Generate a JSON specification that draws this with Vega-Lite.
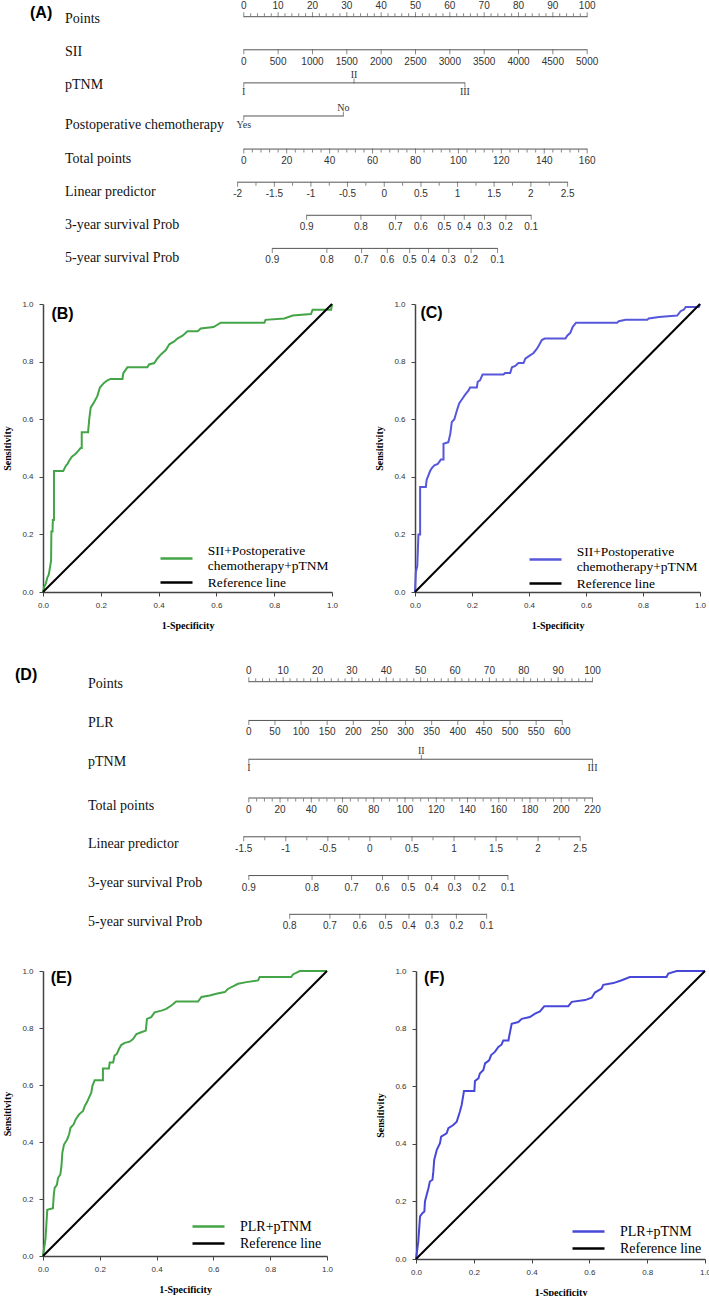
{
  "$schema": "https://vega.github.io/schema/vega-lite/v6.json",
  "autosize": {"type": "pad"},
  "padding": {"left": 2, "top": 0, "right": 0, "bottom": 0},
  "bounds": "flush",
  "spacing": 0,
  "config": {"view": {"stroke": null}, "font": "Liberation Sans"},
  "resolve": {"scale": {"x": "independent", "y": "independent", "color": "independent"}, "legend": {"color": "independent"}},
  "datasets": {
    "nomoA": [
      {"row":0,"pos":0,"label":"0"},{"row":0,"pos":2,"label":""},{"row":0,"pos":4,"label":""},{"row":0,"pos":6,"label":""},{"row":0,"pos":8,"label":""},
      {"row":0,"pos":10,"label":"10"},{"row":0,"pos":12,"label":""},{"row":0,"pos":14,"label":""},{"row":0,"pos":16,"label":""},{"row":0,"pos":18,"label":""},
      {"row":0,"pos":20,"label":"20"},{"row":0,"pos":22,"label":""},{"row":0,"pos":24,"label":""},{"row":0,"pos":26,"label":""},{"row":0,"pos":28,"label":""},
      {"row":0,"pos":30,"label":"30"},{"row":0,"pos":32,"label":""},{"row":0,"pos":34,"label":""},{"row":0,"pos":36,"label":""},{"row":0,"pos":38,"label":""},
      {"row":0,"pos":40,"label":"40"},{"row":0,"pos":42,"label":""},{"row":0,"pos":44,"label":""},{"row":0,"pos":46,"label":""},{"row":0,"pos":48,"label":""},
      {"row":0,"pos":50,"label":"50"},{"row":0,"pos":52,"label":""},{"row":0,"pos":54,"label":""},{"row":0,"pos":56,"label":""},{"row":0,"pos":58,"label":""},
      {"row":0,"pos":60,"label":"60"},{"row":0,"pos":62,"label":""},{"row":0,"pos":64,"label":""},{"row":0,"pos":66,"label":""},{"row":0,"pos":68,"label":""},
      {"row":0,"pos":70,"label":"70"},{"row":0,"pos":72,"label":""},{"row":0,"pos":74,"label":""},{"row":0,"pos":76,"label":""},{"row":0,"pos":78,"label":""},
      {"row":0,"pos":80,"label":"80"},{"row":0,"pos":82,"label":""},{"row":0,"pos":84,"label":""},{"row":0,"pos":86,"label":""},{"row":0,"pos":88,"label":""},
      {"row":0,"pos":90,"label":"90"},{"row":0,"pos":92,"label":""},{"row":0,"pos":94,"label":""},{"row":0,"pos":96,"label":""},{"row":0,"pos":98,"label":""},
      {"row":0,"pos":100,"label":"100"},
      {"row":1,"pos":0,"label":"0"},{"row":1,"pos":10,"label":"500"},{"row":1,"pos":20,"label":"1000"},{"row":1,"pos":30,"label":"1500"},{"row":1,"pos":40,"label":"2000"},
      {"row":1,"pos":50,"label":"2500"},{"row":1,"pos":60,"label":"3000"},{"row":1,"pos":70,"label":"3500"},{"row":1,"pos":80,"label":"4000"},{"row":1,"pos":90,"label":"4500"},{"row":1,"pos":100,"label":"5000"},
      {"row":2,"pos":0,"label":"I"},{"row":2,"pos":32.1,"label":"II"},{"row":2,"pos":64.4,"label":"III"},
      {"row":3,"pos":0,"label":"Yes"},{"row":3,"pos":29.0,"label":"No"},
      {"row":4,"pos":0,"label":"0"},{"row":4,"pos":2.5,"label":""},{"row":4,"pos":5,"label":""},{"row":4,"pos":7.5,"label":""},{"row":4,"pos":10,"label":""},
      {"row":4,"pos":12.5,"label":"20"},{"row":4,"pos":15,"label":""},{"row":4,"pos":17.5,"label":""},{"row":4,"pos":20,"label":""},{"row":4,"pos":22.5,"label":""},
      {"row":4,"pos":25,"label":"40"},{"row":4,"pos":27.5,"label":""},{"row":4,"pos":30,"label":""},{"row":4,"pos":32.5,"label":""},{"row":4,"pos":35,"label":""},
      {"row":4,"pos":37.5,"label":"60"},{"row":4,"pos":40,"label":""},{"row":4,"pos":42.5,"label":""},{"row":4,"pos":45,"label":""},{"row":4,"pos":47.5,"label":""},
      {"row":4,"pos":50,"label":"80"},{"row":4,"pos":52.5,"label":""},{"row":4,"pos":55,"label":""},{"row":4,"pos":57.5,"label":""},{"row":4,"pos":60,"label":""},
      {"row":4,"pos":62.5,"label":"100"},{"row":4,"pos":65,"label":""},{"row":4,"pos":67.5,"label":""},{"row":4,"pos":70,"label":""},{"row":4,"pos":72.5,"label":""},
      {"row":4,"pos":75,"label":"120"},{"row":4,"pos":77.5,"label":""},{"row":4,"pos":80,"label":""},{"row":4,"pos":82.5,"label":""},{"row":4,"pos":85,"label":""},
      {"row":4,"pos":87.5,"label":"140"},{"row":4,"pos":90,"label":""},{"row":4,"pos":92.5,"label":""},{"row":4,"pos":95,"label":""},{"row":4,"pos":97.5,"label":""},
      {"row":4,"pos":100,"label":"160"},
      {"row":5,"pos":-1.8,"label":"-2"},{"row":5,"pos":3.55,"label":""},{"row":5,"pos":8.9,"label":"-1.5"},{"row":5,"pos":14.2,"label":""},
      {"row":5,"pos":19.55,"label":"-1"},{"row":5,"pos":24.9,"label":""},{"row":5,"pos":30.2,"label":"-0.5"},{"row":5,"pos":35.55,"label":""},
      {"row":5,"pos":40.9,"label":"0"},{"row":5,"pos":46.25,"label":""},{"row":5,"pos":51.6,"label":"0.5"},{"row":5,"pos":56.9,"label":""},
      {"row":5,"pos":62.25,"label":"1"},{"row":5,"pos":67.6,"label":""},{"row":5,"pos":72.9,"label":"1.5"},{"row":5,"pos":78.25,"label":""},
      {"row":5,"pos":83.6,"label":"2"},{"row":5,"pos":88.95,"label":""},{"row":5,"pos":94.3,"label":"2.5"},
      {"row":6,"pos":18.3,"label":"0.9"},{"row":6,"pos":34.1,"label":"0.8"},{"row":6,"pos":44.2,"label":"0.7"},{"row":6,"pos":51.6,"label":"0.6"},{"row":6,"pos":58.4,"label":"0.5"},
      {"row":6,"pos":64.2,"label":"0.4"},{"row":6,"pos":70.1,"label":"0.3"},{"row":6,"pos":76.3,"label":"0.2"},{"row":6,"pos":83.7,"label":"0.1"},
      {"row":7,"pos":8.3,"label":"0.9"},{"row":7,"pos":24.2,"label":"0.8"},{"row":7,"pos":34.3,"label":"0.7"},{"row":7,"pos":41.8,"label":"0.6"},{"row":7,"pos":48.3,"label":"0.5"},
      {"row":7,"pos":53.8,"label":"0.4"},{"row":7,"pos":59.7,"label":"0.3"},{"row":7,"pos":66.2,"label":"0.2"},{"row":7,"pos":73.9,"label":"0.1"}
    ],
    "nomoD": [
      {"row":0,"pos":0,"label":"0"},{"row":0,"pos":2,"label":""},{"row":0,"pos":4,"label":""},{"row":0,"pos":6,"label":""},{"row":0,"pos":8,"label":""},
      {"row":0,"pos":10,"label":"10"},{"row":0,"pos":12,"label":""},{"row":0,"pos":14,"label":""},{"row":0,"pos":16,"label":""},{"row":0,"pos":18,"label":""},
      {"row":0,"pos":20,"label":"20"},{"row":0,"pos":22,"label":""},{"row":0,"pos":24,"label":""},{"row":0,"pos":26,"label":""},{"row":0,"pos":28,"label":""},
      {"row":0,"pos":30,"label":"30"},{"row":0,"pos":32,"label":""},{"row":0,"pos":34,"label":""},{"row":0,"pos":36,"label":""},{"row":0,"pos":38,"label":""},
      {"row":0,"pos":40,"label":"40"},{"row":0,"pos":42,"label":""},{"row":0,"pos":44,"label":""},{"row":0,"pos":46,"label":""},{"row":0,"pos":48,"label":""},
      {"row":0,"pos":50,"label":"50"},{"row":0,"pos":52,"label":""},{"row":0,"pos":54,"label":""},{"row":0,"pos":56,"label":""},{"row":0,"pos":58,"label":""},
      {"row":0,"pos":60,"label":"60"},{"row":0,"pos":62,"label":""},{"row":0,"pos":64,"label":""},{"row":0,"pos":66,"label":""},{"row":0,"pos":68,"label":""},
      {"row":0,"pos":70,"label":"70"},{"row":0,"pos":72,"label":""},{"row":0,"pos":74,"label":""},{"row":0,"pos":76,"label":""},{"row":0,"pos":78,"label":""},
      {"row":0,"pos":80,"label":"80"},{"row":0,"pos":82,"label":""},{"row":0,"pos":84,"label":""},{"row":0,"pos":86,"label":""},{"row":0,"pos":88,"label":""},
      {"row":0,"pos":90,"label":"90"},{"row":0,"pos":92,"label":""},{"row":0,"pos":94,"label":""},{"row":0,"pos":96,"label":""},{"row":0,"pos":98,"label":""},
      {"row":0,"pos":100,"label":"100"},
      {"row":1,"pos":0,"label":"0"},{"row":1,"pos":7.6,"label":"50"},{"row":1,"pos":15.2,"label":"100"},{"row":1,"pos":22.8,"label":"150"},{"row":1,"pos":30.4,"label":"200"},
      {"row":1,"pos":38.0,"label":"250"},{"row":1,"pos":45.6,"label":"300"},{"row":1,"pos":53.2,"label":"350"},{"row":1,"pos":60.8,"label":"400"},{"row":1,"pos":68.4,"label":"450"},
      {"row":1,"pos":76.0,"label":"500"},{"row":1,"pos":83.6,"label":"550"},{"row":1,"pos":91.2,"label":"600"},
      {"row":2,"pos":0,"label":"I"},{"row":2,"pos":50.2,"label":"II"},{"row":2,"pos":100,"label":"III"},
      {"row":3,"pos":0,"label":"0"},{"row":3,"pos":2.27,"label":""},{"row":3,"pos":4.55,"label":""},{"row":3,"pos":6.82,"label":""},
      {"row":3,"pos":9.09,"label":"20"},{"row":3,"pos":11.36,"label":""},{"row":3,"pos":13.64,"label":""},{"row":3,"pos":15.91,"label":""},
      {"row":3,"pos":18.18,"label":"40"},{"row":3,"pos":20.45,"label":""},{"row":3,"pos":22.73,"label":""},{"row":3,"pos":25.0,"label":""},
      {"row":3,"pos":27.27,"label":"60"},{"row":3,"pos":29.55,"label":""},{"row":3,"pos":31.82,"label":""},{"row":3,"pos":34.09,"label":""},
      {"row":3,"pos":36.36,"label":"80"},{"row":3,"pos":38.64,"label":""},{"row":3,"pos":40.91,"label":""},{"row":3,"pos":43.18,"label":""},
      {"row":3,"pos":45.45,"label":"100"},{"row":3,"pos":47.73,"label":""},{"row":3,"pos":50.0,"label":""},{"row":3,"pos":52.27,"label":""},
      {"row":3,"pos":54.55,"label":"120"},{"row":3,"pos":56.82,"label":""},{"row":3,"pos":59.09,"label":""},{"row":3,"pos":61.36,"label":""},
      {"row":3,"pos":63.64,"label":"140"},{"row":3,"pos":65.91,"label":""},{"row":3,"pos":68.18,"label":""},{"row":3,"pos":70.45,"label":""},
      {"row":3,"pos":72.73,"label":"160"},{"row":3,"pos":75.0,"label":""},{"row":3,"pos":77.27,"label":""},{"row":3,"pos":79.55,"label":""},
      {"row":3,"pos":81.82,"label":"180"},{"row":3,"pos":84.09,"label":""},{"row":3,"pos":86.36,"label":""},{"row":3,"pos":88.64,"label":""},
      {"row":3,"pos":90.91,"label":"200"},{"row":3,"pos":93.18,"label":""},{"row":3,"pos":95.45,"label":""},{"row":3,"pos":97.73,"label":""},
      {"row":3,"pos":100,"label":"220"},
      {"row":4,"pos":-1.48,"label":"-1.5"},{"row":4,"pos":4.64,"label":""},{"row":4,"pos":10.76,"label":"-1"},{"row":4,"pos":16.88,"label":""},
      {"row":4,"pos":23.0,"label":"-0.5"},{"row":4,"pos":29.12,"label":""},{"row":4,"pos":35.23,"label":"0"},{"row":4,"pos":41.35,"label":""},
      {"row":4,"pos":47.47,"label":"0.5"},{"row":4,"pos":53.59,"label":""},{"row":4,"pos":59.7,"label":"1"},{"row":4,"pos":65.82,"label":""},
      {"row":4,"pos":71.94,"label":"1.5"},{"row":4,"pos":78.06,"label":""},{"row":4,"pos":84.17,"label":"2"},{"row":4,"pos":90.29,"label":""},
      {"row":4,"pos":96.41,"label":"2.5"},
      {"row":5,"pos":0.0,"label":"0.9"},{"row":5,"pos":18.4,"label":"0.8"},{"row":5,"pos":29.9,"label":"0.7"},{"row":5,"pos":38.9,"label":"0.6"},{"row":5,"pos":46.4,"label":"0.5"},
      {"row":5,"pos":53.2,"label":"0.4"},{"row":5,"pos":59.9,"label":"0.3"},{"row":5,"pos":67.0,"label":"0.2"},{"row":5,"pos":75.4,"label":"0.1"},
      {"row":6,"pos":11.9,"label":"0.8"},{"row":6,"pos":23.6,"label":"0.7"},{"row":6,"pos":32.3,"label":"0.6"},{"row":6,"pos":39.8,"label":"0.5"},
      {"row":6,"pos":46.6,"label":"0.4"},{"row":6,"pos":53.3,"label":"0.3"},{"row":6,"pos":60.4,"label":"0.2"},{"row":6,"pos":69.2,"label":"0.1"}
    ],
    "ref": [{"fpr":0,"tpr":0},{"fpr":1,"tpr":1}],
    "rocB": [
      {"fpr":0,"tpr":0},{"fpr":0.005,"tpr":0.02},{"fpr":0.01,"tpr":0.03},{"fpr":0.015,"tpr":0.05},{"fpr":0.02,"tpr":0.06},{"fpr":0.025,"tpr":0.09},
      {"fpr":0.028,"tpr":0.11},{"fpr":0.029,"tpr":0.21},{"fpr":0.033,"tpr":0.21},{"fpr":0.034,"tpr":0.25},{"fpr":0.038,"tpr":0.25},{"fpr":0.038,"tpr":0.42},
      {"fpr":0.07,"tpr":0.42},{"fpr":0.075,"tpr":0.43},{"fpr":0.08,"tpr":0.44},{"fpr":0.085,"tpr":0.445},{"fpr":0.09,"tpr":0.455},{"fpr":0.1,"tpr":0.47},
      {"fpr":0.113,"tpr":0.48},{"fpr":0.122,"tpr":0.49},{"fpr":0.13,"tpr":0.5},{"fpr":0.134,"tpr":0.5},{"fpr":0.134,"tpr":0.555},{"fpr":0.156,"tpr":0.555},
      {"fpr":0.16,"tpr":0.6},{"fpr":0.165,"tpr":0.64},{"fpr":0.177,"tpr":0.66},{"fpr":0.188,"tpr":0.68},{"fpr":0.197,"tpr":0.71},{"fpr":0.21,"tpr":0.725},
      {"fpr":0.223,"tpr":0.735},{"fpr":0.234,"tpr":0.74},{"fpr":0.275,"tpr":0.74},{"fpr":0.278,"tpr":0.76},{"fpr":0.292,"tpr":0.78},{"fpr":0.361,"tpr":0.78},
      {"fpr":0.367,"tpr":0.79},{"fpr":0.385,"tpr":0.795},{"fpr":0.395,"tpr":0.81},{"fpr":0.408,"tpr":0.825},{"fpr":0.425,"tpr":0.84},{"fpr":0.437,"tpr":0.86},
      {"fpr":0.454,"tpr":0.87},{"fpr":0.465,"tpr":0.88},{"fpr":0.483,"tpr":0.89},{"fpr":0.5,"tpr":0.905},{"fpr":0.535,"tpr":0.905},{"fpr":0.546,"tpr":0.915},
      {"fpr":0.59,"tpr":0.92},{"fpr":0.615,"tpr":0.935},{"fpr":0.766,"tpr":0.935},{"fpr":0.77,"tpr":0.945},{"fpr":0.835,"tpr":0.95},{"fpr":0.864,"tpr":0.96},
      {"fpr":0.927,"tpr":0.965},{"fpr":0.933,"tpr":0.98},{"fpr":0.997,"tpr":0.98},{"fpr":1,"tpr":1}
    ],
    "rocC": [
      {"fpr":0,"tpr":0},{"fpr":0.003,"tpr":0.07},{"fpr":0.008,"tpr":0.09},{"fpr":0.012,"tpr":0.2},{"fpr":0.018,"tpr":0.2},{"fpr":0.018,"tpr":0.365},
      {"fpr":0.038,"tpr":0.365},{"fpr":0.041,"tpr":0.39},{"fpr":0.045,"tpr":0.4},{"fpr":0.053,"tpr":0.42},{"fpr":0.059,"tpr":0.43},{"fpr":0.068,"tpr":0.44},
      {"fpr":0.08,"tpr":0.445},{"fpr":0.091,"tpr":0.46},{"fpr":0.1,"tpr":0.46},{"fpr":0.1,"tpr":0.515},{"fpr":0.117,"tpr":0.52},{"fpr":0.124,"tpr":0.55},
      {"fpr":0.129,"tpr":0.59},{"fpr":0.138,"tpr":0.6},{"fpr":0.147,"tpr":0.63},{"fpr":0.155,"tpr":0.655},{"fpr":0.162,"tpr":0.665},{"fpr":0.176,"tpr":0.685},
      {"fpr":0.188,"tpr":0.7},{"fpr":0.193,"tpr":0.71},{"fpr":0.217,"tpr":0.71},{"fpr":0.22,"tpr":0.73},{"fpr":0.228,"tpr":0.735},{"fpr":0.237,"tpr":0.755},
      {"fpr":0.31,"tpr":0.755},{"fpr":0.316,"tpr":0.76},{"fpr":0.334,"tpr":0.76},{"fpr":0.34,"tpr":0.78},{"fpr":0.352,"tpr":0.785},{"fpr":0.363,"tpr":0.795},
      {"fpr":0.381,"tpr":0.795},{"fpr":0.387,"tpr":0.81},{"fpr":0.401,"tpr":0.82},{"fpr":0.416,"tpr":0.83},{"fpr":0.428,"tpr":0.845},{"fpr":0.437,"tpr":0.86},
      {"fpr":0.445,"tpr":0.875},{"fpr":0.455,"tpr":0.88},{"fpr":0.528,"tpr":0.88},{"fpr":0.534,"tpr":0.89},{"fpr":0.545,"tpr":0.9},{"fpr":0.553,"tpr":0.92},
      {"fpr":0.565,"tpr":0.935},{"fpr":0.709,"tpr":0.935},{"fpr":0.715,"tpr":0.94},{"fpr":0.739,"tpr":0.945},{"fpr":0.815,"tpr":0.945},{"fpr":0.82,"tpr":0.95},
      {"fpr":0.856,"tpr":0.955},{"fpr":0.92,"tpr":0.96},{"fpr":0.932,"tpr":0.975},{"fpr":0.943,"tpr":0.98},{"fpr":0.95,"tpr":0.99},{"fpr":0.996,"tpr":0.99},
      {"fpr":1,"tpr":1}
    ],
    "rocE": [
      {"fpr":0,"tpr":0},{"fpr":0.009,"tpr":0.062},{"fpr":0.015,"tpr":0.162},{"fpr":0.035,"tpr":0.168},{"fpr":0.038,"tpr":0.215},{"fpr":0.041,"tpr":0.239},
      {"fpr":0.049,"tpr":0.25},{"fpr":0.053,"tpr":0.274},{"fpr":0.061,"tpr":0.286},{"fpr":0.065,"tpr":0.315},{"fpr":0.068,"tpr":0.362},{"fpr":0.074,"tpr":0.391},
      {"fpr":0.085,"tpr":0.409},{"fpr":0.092,"tpr":0.427},{"fpr":0.097,"tpr":0.45},{"fpr":0.108,"tpr":0.462},{"fpr":0.115,"tpr":0.479},{"fpr":0.127,"tpr":0.497},
      {"fpr":0.141,"tpr":0.509},{"fpr":0.147,"tpr":0.526},{"fpr":0.155,"tpr":0.54},{"fpr":0.162,"tpr":0.556},{"fpr":0.17,"tpr":0.573},{"fpr":0.174,"tpr":0.597},
      {"fpr":0.182,"tpr":0.617},{"fpr":0.211,"tpr":0.617},{"fpr":0.211,"tpr":0.658},{"fpr":0.232,"tpr":0.658},{"fpr":0.235,"tpr":0.679},{"fpr":0.247,"tpr":0.679},
      {"fpr":0.252,"tpr":0.703},{"fpr":0.26,"tpr":0.709},{"fpr":0.268,"tpr":0.727},{"fpr":0.276,"tpr":0.741},{"fpr":0.288,"tpr":0.748},{"fpr":0.305,"tpr":0.752},
      {"fpr":0.317,"tpr":0.761},{"fpr":0.329,"tpr":0.779},{"fpr":0.346,"tpr":0.785},{"fpr":0.362,"tpr":0.791},{"fpr":0.366,"tpr":0.832},{"fpr":0.381,"tpr":0.838},
      {"fpr":0.393,"tpr":0.855},{"fpr":0.417,"tpr":0.861},{"fpr":0.434,"tpr":0.867},{"fpr":0.452,"tpr":0.879},{"fpr":0.469,"tpr":0.893},{"fpr":0.546,"tpr":0.893},
      {"fpr":0.558,"tpr":0.909},{"fpr":0.587,"tpr":0.914},{"fpr":0.61,"tpr":0.92},{"fpr":0.64,"tpr":0.926},{"fpr":0.651,"tpr":0.937},{"fpr":0.669,"tpr":0.946},
      {"fpr":0.687,"tpr":0.955},{"fpr":0.716,"tpr":0.961},{"fpr":0.757,"tpr":0.967},{"fpr":0.763,"tpr":0.979},{"fpr":0.874,"tpr":0.979},{"fpr":0.88,"tpr":0.988},
      {"fpr":0.904,"tpr":1.0},{"fpr":1,"tpr":1}
    ],
    "rocF": [
      {"fpr":0,"tpr":0},{"fpr":0.008,"tpr":0.061},{"fpr":0.014,"tpr":0.148},{"fpr":0.022,"tpr":0.159},{"fpr":0.029,"tpr":0.165},{"fpr":0.031,"tpr":0.2},
      {"fpr":0.037,"tpr":0.223},{"fpr":0.043,"tpr":0.246},{"fpr":0.048,"tpr":0.269},{"fpr":0.057,"tpr":0.275},{"fpr":0.06,"tpr":0.304},{"fpr":0.063,"tpr":0.344},
      {"fpr":0.072,"tpr":0.379},{"fpr":0.083,"tpr":0.402},{"fpr":0.087,"tpr":0.425},{"fpr":0.106,"tpr":0.436},{"fpr":0.112,"tpr":0.454},{"fpr":0.129,"tpr":0.465},
      {"fpr":0.141,"tpr":0.477},{"fpr":0.152,"tpr":0.512},{"fpr":0.158,"tpr":0.535},{"fpr":0.166,"tpr":0.583},{"fpr":0.202,"tpr":0.583},{"fpr":0.204,"tpr":0.618},
      {"fpr":0.216,"tpr":0.627},{"fpr":0.221,"tpr":0.644},{"fpr":0.233,"tpr":0.656},{"fpr":0.239,"tpr":0.679},{"fpr":0.253,"tpr":0.69},{"fpr":0.26,"tpr":0.708},
      {"fpr":0.273,"tpr":0.719},{"fpr":0.285,"tpr":0.736},{"fpr":0.296,"tpr":0.744},{"fpr":0.302,"tpr":0.759},{"fpr":0.32,"tpr":0.759},{"fpr":0.322,"tpr":0.771},
      {"fpr":0.331,"tpr":0.817},{"fpr":0.354,"tpr":0.823},{"fpr":0.366,"tpr":0.834},{"fpr":0.394,"tpr":0.84},{"fpr":0.412,"tpr":0.852},{"fpr":0.429,"tpr":0.86},
      {"fpr":0.444,"tpr":0.878},{"fpr":0.527,"tpr":0.878},{"fpr":0.539,"tpr":0.893},{"fpr":0.585,"tpr":0.899},{"fpr":0.608,"tpr":0.907},{"fpr":0.619,"tpr":0.925},
      {"fpr":0.642,"tpr":0.939},{"fpr":0.648,"tpr":0.952},{"fpr":0.683,"tpr":0.958},{"fpr":0.712,"tpr":0.968},{"fpr":0.74,"tpr":0.979},{"fpr":0.867,"tpr":0.979},
      {"fpr":0.873,"tpr":0.991},{"fpr":0.902,"tpr":1.0},{"fpr":1,"tpr":1}
    ]
  },
  "vconcat": [
    {
      "width": 667.5,
      "height": 303,
      "title": {"text": "(A)", "orient": "top", "anchor": "start", "frame": "group", "offset": -28.7, "dx": -13, "baseline": "middle", "font": "Liberation Sans", "fontSize": 16, "fontWeight": "bold", "color": "#000"},
      "data": {"name": "nomoA"},
      "encoding": {
        "x": {"field": "pos", "type": "quantitative", "scale": {"domain": [-58.47, 135.91], "nice": false, "zero": false}, "axis": null},
        "y": {"field": "row", "type": "quantitative", "scale": {"domain": [-0.474, 8.68], "nice": false, "zero": false, "reverse": true},
          "axis": {"values": [0,1,2,3,4,5,6,7], "labelExpr": "['Points','SII','pTNM','Postoperative chemotherapy','Total points','Linear predictor','3-year survival Prob','5-year survival Prob'][datum.value]",
            "title": null, "domain": false, "ticks": false, "grid": false, "labelAlign": "left", "labelBaseline": "middle", "labelPadding": -21.5,
            "labelFont": "Liberation Serif", "labelFontSize": 14, "labelColor": "#111", "labelLimit": 0, "labelFlush": false, "labelOverlap": false,
            "labelOffset": {"condition": {"test": "datum.value < 2.5", "value": 2}, "value": 9}}}
      },
      "layer": [
        {"mark": {"type": "rule", "color": "#555", "strokeWidth": 1}, "encoding": {"x": {"aggregate": "min", "field": "pos", "type": "quantitative"}, "x2": {"aggregate": "max", "field": "pos"}}},
        {"transform": [{"filter": "datum.row == 0 || datum.label == 'II' || datum.label == 'No'"}], "mark": {"type": "tick", "orient": "vertical", "color": "#555", "thickness": 1, "yOffset": -2}, "encoding": {"size": {"condition": {"test": "datum.label != ''", "value": 5}, "value": 3}}},
        {"transform": [{"filter": "!(datum.row == 0 || datum.label == 'II' || datum.label == 'No')"}], "mark": {"type": "tick", "orient": "vertical", "color": "#555", "thickness": 1, "yOffset": 2}, "encoding": {"size": {"condition": {"test": "datum.label != ''", "value": 5}, "value": 3}}},
        {"transform": [{"filter": "datum.row == 0 && datum.label != ''"}], "mark": {"type": "text", "dy": -11, "fontSize": 10, "color": "#333", "font": "Liberation Sans"}, "encoding": {"text": {"field": "label"}}},
        {"transform": [{"filter": "datum.row > 0 && datum.label != '' && indexof(['I','II','III','Yes','No'], datum.label) < 0"}], "mark": {"type": "text", "dy": 12, "fontSize": 10, "color": "#333", "font": "Liberation Sans"}, "encoding": {"text": {"field": "label"}}},
        {"transform": [{"filter": "datum.label == 'II' || datum.label == 'No'"}], "mark": {"type": "text", "dy": -8, "fontSize": 10, "color": "#333", "font": "Liberation Serif"}, "encoding": {"text": {"field": "label"}}},
        {"transform": [{"filter": "datum.label == 'I' || datum.label == 'III' || datum.label == 'Yes'"}], "mark": {"type": "text", "dy": 9, "fontSize": 10, "color": "#333", "font": "Liberation Serif"}, "encoding": {"text": {"field": "label"}}}
      ]
    },
    {
      "hconcat": [
        {
          "width": 289, "height": 288,
          "layer": [
            {"data": {"name": "rocB"}, "mark": {"type": "line", "strokeWidth": 2},
              "encoding": {
                "x": {"field": "fpr", "type": "quantitative", "scale": {"domain": [0, 1], "nice": false}, "axis": {"title": "1-Specificity", "values": [0,0.2,0.4,0.6,0.8,1], "format": ".1f", "grid": false, "tickSize": 4, "labelFont": "Liberation Sans", "labelFontSize": 8, "labelColor": "#333", "domainColor": "#444", "domainWidth": 1.5, "tickColor": "#444", "titleFont": "Liberation Serif", "titleFontWeight": "bold", "titleFontSize": 10, "titleColor": "#000", "titlePadding": 11, "labelPadding": 5, "labelFlush": false}},
                "y": {"field": "tpr", "type": "quantitative", "scale": {"domain": [0, 1], "nice": false}, "axis": {"title": "Sensitivity", "values": [0,0.2,0.4,0.6,0.8,1], "format": ".1f", "grid": false, "tickSize": 4, "labelFont": "Liberation Sans", "labelFontSize": 8, "labelColor": "#333", "domainColor": "#444", "domainWidth": 1.5, "tickColor": "#444", "titleFont": "Liberation Serif", "titleFontWeight": "bold", "titleFontSize": 10, "titleColor": "#000", "titlePadding": 9, "labelPadding": 6, "labelFlush": false}},
                "color": {"datum": "SII+Postoperative chemotherapy+pTNM", "type": "nominal", "scale": {"domain": ["SII+Postoperative chemotherapy+pTNM", "Reference line"], "range": ["#43a547", "#000000"]},
                  "legend": {"title": null, "orient": "bottom-right", "offset": 3, "padding": 0, "symbolType": "M-2,0H2", "symbolSize": 256, "symbolStrokeWidth": 2.5, "labelFont": "Liberation Serif", "labelFontSize": 13.5, "labelColor": "#000", "labelLimit": 0, "labelOffset": 21.7, "rowPadding": 0,
                    "labelExpr": "datum.label == 'Reference line' ? datum.label : ['SII+Postoperative', 'chemotherapy+pTNM']",
                    "encode": {"symbols": {"update": {"shape": {"signal": "datum.value == 'Reference line' ? 'M-2,0H2' : 'M-2,1H2'"}}}}}},
                "order": {"value": null}
              }},
            {"data": {"name": "ref"}, "mark": {"type": "line", "strokeWidth": 2}, "encoding": {"x": {"field": "fpr", "type": "quantitative"}, "y": {"field": "tpr", "type": "quantitative"}, "color": {"datum": "Reference line", "type": "nominal"}}},
            {"data": {"values": [{"panel": "(B)"}]}, "mark": {"type": "text", "align": "left", "baseline": "middle", "fontSize": 16, "fontWeight": "bold", "font": "Liberation Sans", "color": "#000"},
              "encoding": {"x": {"datum": 0.029}, "y": {"datum": 0.967}, "text": {"field": "panel"}}}
          ]
        },
        {
          "width": 285, "height": 288,
          "layer": [
            {"data": {"name": "rocC"}, "mark": {"type": "line", "strokeWidth": 2},
              "encoding": {
                "x": {"field": "fpr", "type": "quantitative", "scale": {"domain": [0, 1], "nice": false}, "axis": {"title": "1-Specificity", "values": [0,0.2,0.4,0.6,0.8,1], "format": ".1f", "grid": false, "tickSize": 4, "labelFont": "Liberation Sans", "labelFontSize": 8, "labelColor": "#333", "domainColor": "#444", "domainWidth": 1.5, "tickColor": "#444", "titleFont": "Liberation Serif", "titleFontWeight": "bold", "titleFontSize": 10, "titleColor": "#000", "titlePadding": 11, "labelPadding": 5, "labelFlush": false}},
                "y": {"field": "tpr", "type": "quantitative", "scale": {"domain": [0, 1], "nice": false}, "axis": {"title": "Sensitivity", "values": [0,0.2,0.4,0.6,0.8,1], "format": ".1f", "grid": false, "tickSize": 4, "labelFont": "Liberation Sans", "labelFontSize": 8, "labelColor": "#333", "domainColor": "#444", "domainWidth": 1.5, "tickColor": "#444", "titleFont": "Liberation Serif", "titleFontWeight": "bold", "titleFontSize": 10, "titleColor": "#000", "titlePadding": 9, "labelPadding": 6, "labelFlush": false}},
                "color": {"datum": "SII+Postoperative chemotherapy+pTNM", "type": "nominal", "scale": {"domain": ["SII+Postoperative chemotherapy+pTNM", "Reference line"], "range": ["#5757dc", "#000000"]},
                  "legend": {"title": null, "orient": "bottom-right", "offset": 2, "padding": 0, "symbolType": "M-2,0H2", "symbolSize": 256, "symbolStrokeWidth": 2.5, "labelFont": "Liberation Serif", "labelFontSize": 13.5, "labelColor": "#000", "labelLimit": 0, "labelOffset": 21.7, "rowPadding": 0,
                    "labelExpr": "datum.label == 'Reference line' ? datum.label : ['SII+Postoperative', 'chemotherapy+pTNM']",
                    "encode": {"symbols": {"update": {"shape": {"signal": "datum.value == 'Reference line' ? 'M-2,0H2' : 'M-2,1H2'"}}}}}},
                "order": {"value": null}
              }},
            {"data": {"name": "ref"}, "mark": {"type": "line", "strokeWidth": 2}, "encoding": {"x": {"field": "fpr", "type": "quantitative"}, "y": {"field": "tpr", "type": "quantitative"}, "color": {"datum": "Reference line", "type": "nominal"}}},
            {"data": {"values": [{"panel": "(C)"}]}, "mark": {"type": "text", "align": "left", "baseline": "middle", "fontSize": 16, "fontWeight": "bold", "font": "Liberation Sans", "color": "#000"},
              "encoding": {"x": {"datum": 0.019}, "y": {"datum": 0.968}, "text": {"field": "panel"}}}
          ]
        }
      ],
      "spacing": 83,
      "bounds": "flush",
      "resolve": {"scale": {"x": "independent", "y": "independent", "color": "independent"}, "legend": {"color": "independent"}}
    },
    {
      "width": 667.5,
      "height": 667,
      "title": {"text": "(D)", "orient": "top", "anchor": "start", "frame": "group", "offset": -387, "dx": -28, "baseline": "middle", "font": "Liberation Sans", "fontSize": 16, "fontWeight": "bold", "color": "#000"},
      "data": {"name": "nomoD"},
      "encoding": {
        "x": {"field": "pos", "type": "quantitative", "scale": {"domain": [-59.88, 134.33], "nice": false, "zero": false}, "axis": null},
        "y": {"field": "row", "type": "quantitative", "scale": {"domain": [-9.742, 7.462], "nice": false, "zero": false, "reverse": true},
          "axis": {"values": [0,1,2,3,4,5,6], "labelExpr": "['Points','PLR','pTNM','Total points','Linear predictor','3-year survival Prob','5-year survival Prob'][datum.value]",
            "title": null, "domain": false, "ticks": false, "grid": false, "labelAlign": "left", "labelBaseline": "middle", "labelPadding": -44.5,
            "labelFont": "Liberation Serif", "labelFontSize": 14, "labelColor": "#111", "labelLimit": 0, "labelFlush": false, "labelOverlap": false,
            "labelOffset": {"condition": {"test": "datum.value < 2.5", "value": 2}, "value": 7}}}
      },
      "layer": [
        {"mark": {"type": "rule", "color": "#555", "strokeWidth": 1}, "encoding": {"x": {"aggregate": "min", "field": "pos", "type": "quantitative"}, "x2": {"aggregate": "max", "field": "pos"}}},
        {"transform": [{"filter": "datum.row == 0 || datum.label == 'II'"}], "mark": {"type": "tick", "orient": "vertical", "color": "#555", "thickness": 1, "yOffset": -2}, "encoding": {"size": {"condition": {"test": "datum.label != ''", "value": 5}, "value": 3}}},
        {"transform": [{"filter": "!(datum.row == 0 || datum.label == 'II')"}], "mark": {"type": "tick", "orient": "vertical", "color": "#555", "thickness": 1, "yOffset": 2}, "encoding": {"size": {"condition": {"test": "datum.label != ''", "value": 5}, "value": 3}}},
        {"transform": [{"filter": "datum.row == 0 && datum.label != ''"}], "mark": {"type": "text", "dy": -11, "fontSize": 10, "color": "#333", "font": "Liberation Sans"}, "encoding": {"text": {"field": "label"}}},
        {"transform": [{"filter": "datum.row > 0 && datum.label != '' && indexof(['I','II','III'], datum.label) < 0"}], "mark": {"type": "text", "dy": 12, "fontSize": 10, "color": "#333", "font": "Liberation Sans"}, "encoding": {"text": {"field": "label"}}},
        {"transform": [{"filter": "datum.label == 'II'"}], "mark": {"type": "text", "dy": -8, "fontSize": 10, "color": "#333", "font": "Liberation Serif"}, "encoding": {"text": {"field": "label"}}},
        {"transform": [{"filter": "datum.label == 'I' || datum.label == 'III'"}], "mark": {"type": "text", "dy": 9, "fontSize": 10, "color": "#333", "font": "Liberation Serif"}, "encoding": {"text": {"field": "label"}}}
      ]
    },
    {
      "hconcat": [
        {
          "width": 284, "height": 285,
          "layer": [
            {"data": {"name": "rocE"}, "mark": {"type": "line", "strokeWidth": 2},
              "encoding": {
                "x": {"field": "fpr", "type": "quantitative", "scale": {"domain": [0, 1], "nice": false}, "axis": {"title": "1-Specificity", "values": [0,0.2,0.4,0.6,0.8,1], "format": ".1f", "grid": false, "tickSize": 4, "labelFont": "Liberation Sans", "labelFontSize": 8, "labelColor": "#333", "domainColor": "#444", "domainWidth": 1.5, "tickColor": "#444", "titleFont": "Liberation Serif", "titleFontWeight": "bold", "titleFontSize": 10, "titleColor": "#000", "titlePadding": 11, "labelPadding": 5, "labelFlush": false}},
                "y": {"field": "tpr", "type": "quantitative", "scale": {"domain": [0, 1], "nice": false}, "axis": {"title": "Sensitivity", "values": [0,0.2,0.4,0.6,0.8,1], "format": ".1f", "grid": false, "tickSize": 4, "labelFont": "Liberation Sans", "labelFontSize": 8, "labelColor": "#333", "domainColor": "#444", "domainWidth": 1.5, "tickColor": "#444", "titleFont": "Liberation Serif", "titleFontWeight": "bold", "titleFontSize": 10, "titleColor": "#000", "titlePadding": 9, "labelPadding": 6, "labelFlush": false}},
                "color": {"datum": "PLR+pTNM", "type": "nominal", "scale": {"domain": ["PLR+pTNM", "Reference line"], "range": ["#43a547", "#000000"]},
                  "legend": {"title": null, "orient": "bottom-right", "offset": 5, "padding": 0, "symbolType": "M-2,0H2", "symbolSize": 256, "symbolStrokeWidth": 2.5, "labelFont": "Liberation Serif", "labelFontSize": 14, "labelColor": "#000", "labelLimit": 0, "labelOffset": 22, "rowPadding": 0}},
                "order": {"value": null}
              }},
            {"data": {"name": "ref"}, "mark": {"type": "line", "strokeWidth": 2}, "encoding": {"x": {"field": "fpr", "type": "quantitative"}, "y": {"field": "tpr", "type": "quantitative"}, "color": {"datum": "Reference line", "type": "nominal"}}},
            {"data": {"values": [{"panel": "(E)"}]}, "mark": {"type": "text", "align": "left", "baseline": "middle", "fontSize": 16, "fontWeight": "bold", "font": "Liberation Sans", "color": "#000"},
              "encoding": {"x": {"datum": 0.027}, "y": {"datum": 0.977}, "text": {"field": "panel"}}}
          ]
        },
        {
          "width": 289, "height": 288,
          "layer": [
            {"data": {"name": "rocF"}, "mark": {"type": "line", "strokeWidth": 2},
              "encoding": {
                "x": {"field": "fpr", "type": "quantitative", "scale": {"domain": [0, 1], "nice": false}, "axis": {"title": "1-Specificity", "values": [0,0.2,0.4,0.6,0.8,1], "format": ".1f", "grid": false, "tickSize": 4, "labelFont": "Liberation Sans", "labelFontSize": 8, "labelColor": "#333", "domainColor": "#444", "domainWidth": 1.5, "tickColor": "#444", "titleFont": "Liberation Serif", "titleFontWeight": "bold", "titleFontSize": 10, "titleColor": "#000", "titlePadding": 11, "labelPadding": 5, "labelFlush": false}},
                "y": {"field": "tpr", "type": "quantitative", "scale": {"domain": [0, 1], "nice": false}, "axis": {"title": "Sensitivity", "values": [0,0.2,0.4,0.6,0.8,1], "format": ".1f", "grid": false, "tickSize": 4, "labelFont": "Liberation Sans", "labelFontSize": 8, "labelColor": "#333", "domainColor": "#444", "domainWidth": 1.5, "tickColor": "#444", "titleFont": "Liberation Serif", "titleFontWeight": "bold", "titleFontSize": 10, "titleColor": "#000", "titlePadding": 9, "labelPadding": 6, "labelFlush": false}},
                "color": {"datum": "PLR+pTNM", "type": "nominal", "scale": {"domain": ["PLR+pTNM", "Reference line"], "range": ["#4848d8", "#000000"]},
                  "legend": {"title": null, "orient": "bottom-right", "offset": 3, "padding": 0, "symbolType": "M-2,0H2", "symbolSize": 256, "symbolStrokeWidth": 2.5, "labelFont": "Liberation Serif", "labelFontSize": 14, "labelColor": "#000", "labelLimit": 0, "labelOffset": 22, "rowPadding": 0}},
                "order": {"value": null}
              }},
            {"data": {"name": "ref"}, "mark": {"type": "line", "strokeWidth": 2}, "encoding": {"x": {"field": "fpr", "type": "quantitative"}, "y": {"field": "tpr", "type": "quantitative"}, "color": {"datum": "Reference line", "type": "nominal"}}},
            {"data": {"values": [{"panel": "(F)"}]}, "mark": {"type": "text", "align": "left", "baseline": "middle", "fontSize": 16, "fontWeight": "bold", "font": "Liberation Sans", "color": "#000"},
              "encoding": {"x": {"datum": 0.028}, "y": {"datum": 0.977}, "text": {"field": "panel"}}}
          ]
        }
      ],
      "spacing": 89,
      "bounds": "flush",
      "resolve": {"scale": {"x": "independent", "y": "independent", "color": "independent"}, "legend": {"color": "independent"}}
    }
  ]
}
